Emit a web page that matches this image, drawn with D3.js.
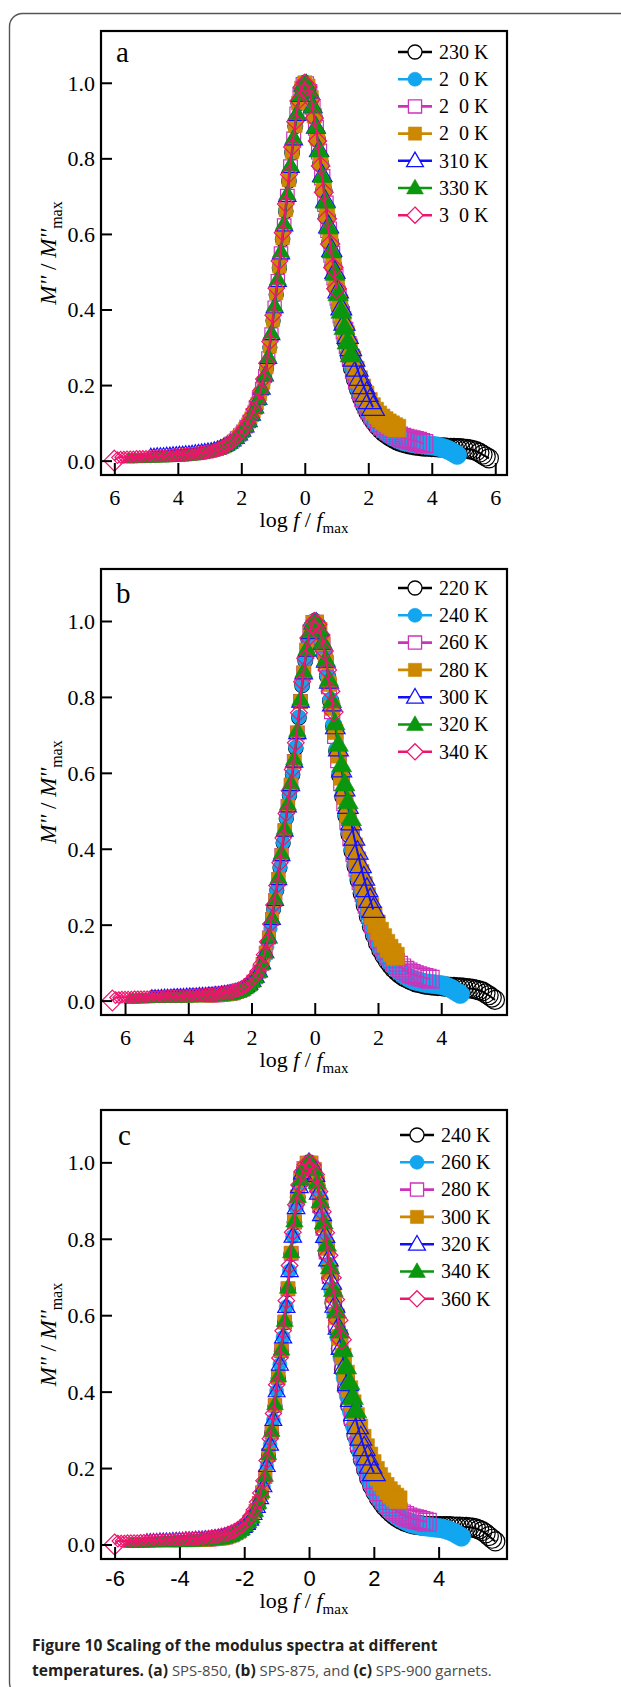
<!DOCTYPE html>
<html>
<head>
<meta charset="utf-8">
<script src="https://cdn.jsdelivr.net/npm/d3@7"></script>
<style>
  html, body { margin: 0; padding: 0; background: #fff; }
  svg { display: block; }
  text { white-space: pre; }
</style>
</head>
<body>
<script>
// ---------------------------------------------------------------------------
// Data
// ---------------------------------------------------------------------------

// Measurement grid, log10(f / Hz); every temperature shares it.
const logFreq = [
  -1.0, -0.9, -0.8, -0.7, -0.6, -0.5, -0.4, -0.3, -0.2, -0.1,
   0.0,  0.1,  0.2,  0.3,  0.4,  0.5,  0.6,  0.7,  0.8,  0.9,
   1.0,  1.1,  1.2,  1.3,  1.4,  1.5,  1.6,  1.7,  1.8,  1.9,
   2.0,  2.1,  2.2,  2.3,  2.4,  2.5,  2.6,  2.7,  2.8,  2.9,
   3.0,  3.1,  3.2,  3.3,  3.4,  3.5,  3.6,  3.7,  3.8,  3.9,
   4.0,  4.1,  4.2,  4.3,  4.4,  4.5,  4.6,  4.7,  4.8,  4.9,
   5.0,  5.1,  5.2,  5.3,  5.4,  5.5,  5.6,  5.7,  5.8,  5.9,
   6.0
];

// (a) SPS-850
const labelsA = ["230 K", "2\u20070 K", "2\u20070 K", "2\u20070 K", "310 K", "330 K", "3\u20070 K"];
const logFmaxA = [0.2, 1.2, 2.25, 3.1, 3.85, 4.55, 5.0];
const a1 = [0.245,0.300,0.370,0.440,0.510,0.585,0.660,0.740,0.815,0.885,
  0.945,0.985,1.000,0.990,0.958,0.910,0.850,0.785,0.715,0.645,
  0.578,0.515,0.458,0.405,0.358,0.316,0.279,0.245,0.215,0.189,
  0.166,0.146,0.129,0.115,0.103,0.092,0.083,0.075,0.069,0.063,
  0.058,0.054,0.050,0.047,0.045,0.043,0.041,0.040,0.039,0.038,
  0.037,0.037,0.036,0.036,0.035,0.035,0.035,0.034,0.034,0.034,
  0.033,0.033,0.032,0.031,0.030,0.028,0.025,0.021,0.016,0.011,0.006];
const a2 = [0.056,0.064,0.073,0.084,0.097,0.112,0.130,0.151,0.176,0.205,
  0.245,0.300,0.370,0.440,0.512,0.587,0.662,0.742,0.817,0.886,
  0.946,0.986,1.000,0.990,0.958,0.910,0.850,0.785,0.715,0.645,
  0.578,0.515,0.458,0.406,0.360,0.319,0.282,0.249,0.219,0.193,
  0.170,0.150,0.133,0.119,0.107,0.097,0.088,0.080,0.074,0.068,
  0.063,0.059,0.055,0.052,0.050,0.048,0.046,0.045,0.044,0.043,
  0.042,0.041,0.040,0.039,0.037,0.035,0.032,0.029,0.025,0.020,0.015];
const a3 = [0.020,0.022,0.023,0.025,0.027,0.029,0.032,0.036,0.040,0.046,
  0.052,0.060,0.068,0.078,0.090,0.104,0.121,0.140,0.163,0.190,
  0.224,0.271,0.334,0.405,0.475,0.548,0.622,0.700,0.778,0.851,
  0.917,0.967,0.995,0.997,0.976,0.936,0.881,0.818,0.750,0.680,
  0.611,0.546,0.486,0.433,0.386,0.344,0.306,0.272,0.240,0.212,
  0.188,0.167,0.149,0.134,0.121,0.110,0.100,0.092,0.085,0.079,
  0.074,0.069,0.065,0.062,0.059,0.057,0.055,0.053,0.051,0.048,0.045];
const a4 = [0.015,0.015,0.016,0.016,0.017,0.018,0.018,0.019,0.020,0.021,
  0.023,0.024,0.026,0.028,0.031,0.034,0.038,0.043,0.049,0.056,
  0.064,0.073,0.084,0.097,0.112,0.130,0.151,0.176,0.206,0.247,
  0.302,0.372,0.443,0.514,0.589,0.664,0.743,0.818,0.887,0.946,
  0.986,1.000,0.991,0.960,0.913,0.854,0.790,0.721,0.652,0.586,
  0.524,0.468,0.418,0.374,0.335,0.300,0.268,0.240,0.215,0.193,
  0.174,0.157,0.143,0.131,0.121,0.113,0.106,0.100,0.095,0.090,0.086];
const a5 = [0.016,0.016,0.017,0.017,0.017,0.018,0.018,0.019,0.019,0.020,
  0.020,0.021,0.021,0.022,0.023,0.024,0.025,0.026,0.027,0.028,
  0.030,0.032,0.035,0.038,0.042,0.047,0.053,0.060,0.069,0.079,
  0.091,0.105,0.122,0.141,0.164,0.191,0.226,0.273,0.336,0.407,
  0.477,0.550,0.624,0.702,0.779,0.852,0.917,0.967,0.995,0.997,
  0.977,0.938,0.884,0.823,0.757,0.689,0.622,0.559,0.501,0.450,
  0.405,0.365,0.330,0.298,0.270,0.244,0.220,0.198,0.178,0.159,0.141];
const a6 = [0.005,0.005,0.006,0.006,0.006,0.006,0.007,0.007,0.007,0.008,
  0.008,0.008,0.009,0.009,0.010,0.010,0.011,0.011,0.012,0.013,
  0.014,0.015,0.016,0.018,0.020,0.022,0.024,0.027,0.030,0.033,
  0.036,0.041,0.046,0.053,0.060,0.069,0.079,0.091,0.105,0.122,
  0.141,0.164,0.192,0.228,0.276,0.339,0.410,0.481,0.554,0.628,
  0.706,0.782,0.855,0.919,0.968,0.996,0.998,0.978,0.938,0.884,
  0.821,0.754,0.686,0.618,0.555,0.496,0.442,0.396,0.353,0.315,0.281];
const a7 = [0.000,0.008,0.009,0.009,0.010,0.010,0.010,0.011,0.011,0.011,
  0.011,0.012,0.012,0.012,0.013,0.013,0.013,0.014,0.014,0.015,
  0.015,0.016,0.016,0.017,0.018,0.018,0.019,0.020,0.021,0.023,
  0.024,0.026,0.028,0.031,0.035,0.039,0.044,0.050,0.057,0.066,
  0.076,0.087,0.101,0.117,0.136,0.158,0.184,0.216,0.258,0.315,
  0.385,0.456,0.528,0.603,0.679,0.757,0.830,0.897,0.952,0.988,
  1.000,0.989,0.956,0.907,0.846,0.780,0.710,0.640,0.573,0.511,0.455];

// (b) SPS-875
const labelsB = ["220 K", "240 K", "260 K", "280 K", "300 K", "320 K", "340 K"];
const logFmaxB = [0.3, 1.4, 2.35, 3.45, 4.15, 4.85, 5.4];
const b1 = [0.240,0.290,0.350,0.415,0.480,0.540,0.595,0.665,0.745,0.830,
  0.895,0.950,0.986,1.000,0.990,0.958,0.912,0.855,0.790,0.724,
  0.658,0.593,0.537,0.486,0.438,0.394,0.354,0.317,0.283,0.251,
  0.222,0.196,0.173,0.152,0.134,0.119,0.106,0.095,0.085,0.077,
  0.070,0.064,0.059,0.055,0.051,0.048,0.046,0.044,0.042,0.041,
  0.040,0.039,0.038,0.038,0.037,0.037,0.036,0.036,0.035,0.035,
  0.034,0.033,0.032,0.031,0.029,0.027,0.024,0.019,0.014,0.008,0.002];
const b2 = [0.022,0.026,0.031,0.037,0.045,0.055,0.068,0.085,0.110,0.142,
  0.190,0.240,0.291,0.351,0.416,0.481,0.542,0.597,0.667,0.747,
  0.831,0.896,0.951,0.987,1.000,0.990,0.959,0.913,0.857,0.792,
  0.727,0.661,0.597,0.541,0.491,0.444,0.400,0.361,0.325,0.291,
  0.259,0.230,0.203,0.180,0.159,0.141,0.126,0.113,0.102,0.092,
  0.083,0.076,0.069,0.064,0.059,0.055,0.052,0.050,0.048,0.046,
  0.045,0.044,0.043,0.042,0.041,0.039,0.036,0.032,0.027,0.022,0.017];
const b3 = [0.011,0.011,0.012,0.012,0.013,0.014,0.015,0.016,0.018,0.021,
  0.024,0.028,0.034,0.041,0.050,0.061,0.076,0.097,0.126,0.166,
  0.215,0.265,0.320,0.383,0.448,0.512,0.568,0.630,0.705,0.788,
  0.863,0.923,0.969,0.996,0.996,0.976,0.938,0.888,0.828,0.763,
  0.698,0.634,0.574,0.521,0.473,0.429,0.388,0.350,0.315,0.283,
  0.253,0.226,0.202,0.181,0.162,0.146,0.132,0.120,0.110,0.101,
  0.093,0.086,0.080,0.075,0.071,0.068,0.065,0.063,0.061,0.059,0.056];
const b4 = [0.009,0.009,0.009,0.010,0.010,0.010,0.010,0.011,0.011,0.011,
  0.011,0.011,0.011,0.012,0.012,0.013,0.014,0.015,0.016,0.018,
  0.021,0.024,0.028,0.034,0.041,0.050,0.061,0.076,0.097,0.126,
  0.166,0.215,0.265,0.320,0.383,0.448,0.512,0.568,0.630,0.705,
  0.788,0.863,0.923,0.969,0.996,0.997,0.977,0.941,0.892,0.834,
  0.771,0.708,0.646,0.588,0.537,0.490,0.447,0.407,0.370,0.336,
  0.304,0.275,0.248,0.224,0.202,0.183,0.166,0.151,0.138,0.127,0.117];
const b5 = [0.012,0.012,0.012,0.013,0.013,0.013,0.013,0.014,0.014,0.014,
  0.014,0.015,0.015,0.015,0.015,0.016,0.016,0.016,0.017,0.017,
  0.018,0.018,0.019,0.020,0.021,0.022,0.024,0.026,0.029,0.033,
  0.038,0.044,0.052,0.063,0.078,0.099,0.128,0.167,0.216,0.266,
  0.321,0.384,0.449,0.513,0.569,0.631,0.706,0.789,0.864,0.924,
  0.970,0.996,0.997,0.978,0.943,0.896,0.841,0.781,0.721,0.663,
  0.608,0.558,0.512,0.469,0.429,0.392,0.357,0.324,0.294,0.266,0.240];
const b6 = [0.004,0.004,0.004,0.005,0.005,0.005,0.005,0.006,0.006,0.006,
  0.006,0.007,0.007,0.007,0.007,0.008,0.008,0.008,0.008,0.009,
  0.009,0.009,0.010,0.010,0.010,0.011,0.011,0.012,0.012,0.013,
  0.014,0.015,0.016,0.018,0.021,0.024,0.028,0.034,0.041,0.050,
  0.061,0.076,0.097,0.127,0.168,0.218,0.269,0.325,0.389,0.454,
  0.518,0.574,0.637,0.712,0.794,0.868,0.927,0.972,0.997,0.997,
  0.979,0.945,0.899,0.846,0.789,0.731,0.675,0.621,0.571,0.524,0.480];
const b7 = [0.000,0.008,0.008,0.009,0.009,0.009,0.009,0.010,0.010,0.010,
  0.010,0.010,0.011,0.011,0.011,0.011,0.011,0.012,0.012,0.012,
  0.012,0.013,0.013,0.013,0.013,0.014,0.014,0.014,0.015,0.015,
  0.016,0.016,0.017,0.018,0.019,0.020,0.021,0.023,0.025,0.027,
  0.030,0.034,0.039,0.046,0.054,0.064,0.078,0.096,0.121,0.155,
  0.202,0.252,0.303,0.363,0.428,0.493,0.553,0.609,0.679,0.758,
  0.840,0.902,0.955,0.989,1.000,0.991,0.963,0.921,0.871,0.815,0.760];

// (c) SPS-900
const labelsC = ["240 K", "260 K", "280 K", "300 K", "320 K", "340 K", "360 K"];
const logFmaxC = [0.25, 1.3, 2.35, 3.25, 4.0, 4.55, 5.0];
const c1 = [0.232,0.292,0.362,0.435,0.505,0.580,0.667,0.760,0.843,0.908,
  0.954,0.983,0.997,0.997,0.979,0.940,0.885,0.825,0.762,0.697,
  0.632,0.570,0.512,0.458,0.408,0.363,0.322,0.285,0.252,0.223,
  0.197,0.174,0.154,0.137,0.122,0.110,0.099,0.090,0.082,0.075,
  0.069,0.064,0.060,0.057,0.054,0.052,0.051,0.050,0.049,0.049,
  0.048,0.048,0.048,0.048,0.048,0.048,0.048,0.047,0.047,0.047,
  0.046,0.046,0.045,0.044,0.042,0.039,0.035,0.029,0.022,0.015,0.008];
const c2 = [0.025,0.030,0.036,0.043,0.052,0.063,0.078,0.097,0.120,0.152,
  0.205,0.261,0.326,0.401,0.471,0.542,0.622,0.716,0.806,0.881,
  0.936,0.973,0.993,1.000,0.993,0.965,0.916,0.856,0.796,0.731,
  0.667,0.603,0.543,0.488,0.436,0.389,0.347,0.308,0.273,0.242,
  0.214,0.190,0.169,0.150,0.134,0.121,0.109,0.099,0.090,0.083,
  0.076,0.070,0.065,0.061,0.057,0.054,0.052,0.050,0.048,0.047,
  0.046,0.045,0.044,0.043,0.042,0.040,0.037,0.034,0.030,0.025,0.020];
const c3 = [0.009,0.010,0.010,0.011,0.012,0.013,0.014,0.015,0.017,0.020,
  0.023,0.028,0.033,0.040,0.048,0.058,0.071,0.088,0.109,0.136,
  0.177,0.234,0.294,0.364,0.437,0.507,0.582,0.669,0.762,0.844,
  0.909,0.955,0.984,0.997,0.997,0.980,0.942,0.888,0.829,0.767,
  0.703,0.639,0.578,0.521,0.469,0.420,0.376,0.336,0.300,0.268,
  0.239,0.213,0.190,0.170,0.153,0.138,0.126,0.115,0.106,0.098,
  0.091,0.085,0.080,0.076,0.072,0.069,0.067,0.065,0.063,0.061,0.058];
const c4 = [0.007,0.007,0.007,0.008,0.008,0.008,0.008,0.009,0.009,0.009,
  0.010,0.010,0.011,0.012,0.013,0.014,0.015,0.017,0.020,0.023,
  0.028,0.033,0.040,0.048,0.058,0.071,0.088,0.109,0.136,0.178,
  0.235,0.295,0.365,0.438,0.508,0.583,0.670,0.763,0.845,0.910,
  0.955,0.984,0.997,0.998,0.981,0.945,0.893,0.836,0.776,0.715,
  0.654,0.596,0.542,0.493,0.448,0.407,0.370,0.336,0.306,0.279,
  0.254,0.232,0.212,0.194,0.178,0.164,0.152,0.141,0.132,0.124,0.117];
const c5 = [0.012,0.012,0.012,0.012,0.013,0.013,0.013,0.013,0.014,0.014,
  0.014,0.014,0.015,0.015,0.015,0.016,0.016,0.016,0.017,0.017,
  0.018,0.019,0.020,0.021,0.023,0.025,0.028,0.031,0.035,0.040,
  0.046,0.054,0.065,0.080,0.099,0.122,0.153,0.206,0.262,0.327,
  0.402,0.472,0.543,0.623,0.717,0.807,0.882,0.937,0.973,0.993,
  1.000,0.993,0.967,0.921,0.865,0.808,0.747,0.686,0.626,0.569,
  0.516,0.467,0.422,0.381,0.344,0.310,0.280,0.253,0.229,0.207,0.188];
const c6 = [0.003,0.003,0.003,0.004,0.004,0.004,0.004,0.005,0.005,0.005,
  0.005,0.006,0.006,0.006,0.006,0.007,0.007,0.007,0.008,0.008,
  0.008,0.009,0.009,0.010,0.010,0.011,0.012,0.013,0.014,0.015,
  0.017,0.020,0.023,0.028,0.033,0.040,0.048,0.058,0.071,0.088,
  0.109,0.137,0.180,0.237,0.298,0.368,0.441,0.511,0.586,0.673,
  0.766,0.847,0.911,0.956,0.985,0.998,0.998,0.982,0.948,0.898,
  0.843,0.785,0.726,0.667,0.611,0.559,0.510,0.465,0.424,0.386,0.351];
const c7 = [0.000,0.009,0.009,0.009,0.010,0.010,0.010,0.010,0.011,0.011,
  0.011,0.011,0.012,0.012,0.012,0.012,0.013,0.013,0.013,0.014,
  0.014,0.014,0.015,0.015,0.016,0.016,0.017,0.017,0.018,0.019,
  0.020,0.021,0.022,0.024,0.026,0.029,0.032,0.036,0.041,0.047,
  0.054,0.063,0.075,0.091,0.111,0.135,0.167,0.220,0.277,0.343,
  0.418,0.488,0.559,0.638,0.730,0.817,0.889,0.941,0.976,0.994,
  1.000,0.993,0.968,0.924,0.871,0.816,0.757,0.698,0.641,0.587,0.536];

const yTicks = [0.0, 0.2, 0.4, 0.6, 0.8, 1.0];
const xTicksA = [-6, -4, -2, 0, 2, 4, 6];
const xTicksB = [-6, -4, -2, 0, 2, 4];
const xTicksC = [-6, -4, -2, 0, 2, 4];

// ---------------------------------------------------------------------------
// Styles and layout
// ---------------------------------------------------------------------------
const seriesStyle = [
  { color: "#000000", shape: "circle",   filled: false },
  { color: "#12a6f0", shape: "circle",   filled: true  },
  { color: "#cc33bb", shape: "square",   filled: false },
  { color: "#cc8800", shape: "square",   filled: true  },
  { color: "#1010ff", shape: "triangle", filled: false },
  { color: "#0a960f", shape: "triangle", filled: true  },
  { color: "#f0146e", shape: "diamond",  filled: false, firstSize: 18 }
];

const serif = "'Liberation Serif','Times New Roman',Times,serif";
const sans = "'Liberation Sans',Arial,Helvetica,sans-serif";
const W = 621, H = 1687;

const svg = d3.select("body").append("svg")
  .attr("width", W).attr("height", H)
  .attr("viewBox", `0 0 ${W} ${H}`);

svg.append("rect").attr("width", W).attr("height", H).attr("fill", "#fff");

// rounded outer box of the figure
svg.append("rect")
  .attr("x", 9.5).attr("y", 13.5)
  .attr("width", 660).attr("height", 1682)
  .attr("rx", 13).attr("ry", 13)
  .attr("fill", "none").attr("stroke", "#555").attr("stroke-width", 1.4);

function markerPath(shape, s) {
  const r = s / 2;
  if (shape === "circle") {
    return `M${r},0A${r},${r} 0 1,1 ${-r},0A${r},${r} 0 1,1 ${r},0Z`;
  }
  if (shape === "square") {
    const h = r * 0.94;
    return `M${-h},${-h}H${h}V${h}H${-h}Z`;
  }
  if (shape === "triangle") {
    const w = s * 0.6, t = s * 0.62, b = s * 0.42;
    return `M0,${-t}L${w},${b}L${-w},${b}Z`;
  }
  const d = s * 0.58;
  return `M0,${-d}L${d},0L0,${d}L${-d},0Z`;
}

// marker size grows from the low-frequency wing to the high-frequency wing
const markerSize = d3.scaleLinear()
  .domain([-5, -2, 0, 2])
  .range([10, 13, 15, 19])
  .clamp(true);

function drawPanel(p) {
  const x = d3.scaleLinear().domain(p.xDomain).range([p.left, p.right]);
  const y = d3.scaleLinear().domain([-0.038, 1.137]).range([p.bottom, p.top]);
  const g = svg.append("g");

  // data: each temperature is shifted by its own peak frequency
  p.values.forEach((vals, k) => {
    const st = seriesStyle[k];
    const n = Math.min(vals.length, logFreq.length);
    const pts = d3.range(n).map(i => ({ i, x: logFreq[i] - p.logFmax[k], y: vals[i] }));
    const sg = g.append("g");
    sg.append("path").datum(pts)
      .attr("d", d3.line().x(d => x(d.x)).y(d => y(d.y)))
      .attr("fill", "none").attr("stroke", st.color).attr("stroke-width", 2);
    sg.selectAll("path.m").data(pts).join("path")
      .attr("class", "m")
      .attr("transform", d => `translate(${x(d.x)},${y(d.y)})`)
      .attr("d", d => markerPath(st.shape,
        d.i === 0 && st.firstSize ? st.firstSize : markerSize(d.x)))
      .attr("fill", st.filled ? st.color : "none")
      .attr("stroke", st.color)
      .attr("stroke-width", st.filled ? 0.6 : 1.2);
  });

  // axes: ticks point inward
  const ax = g.append("g").attr("transform", `translate(0,${p.bottom})`)
    .call(d3.axisBottom(x).tickValues(p.xTicks).tickSize(-12)
      .tickFormat(p.xFormat));
  ax.select(".domain").remove();
  ax.selectAll(".tick line").attr("stroke", "#000").attr("stroke-width", 2);
  ax.selectAll(".tick text")
    .attr("y", p.xLabelDy).attr("dy", null)
    .attr("font-family", p.xFont).attr("font-size", p.xFontSize).attr("fill", "#000");

  const ay = g.append("g").attr("transform", `translate(${p.left},0)`)
    .call(d3.axisLeft(y).tickValues(yTicks).tickSize(-11).tickFormat(d3.format(".1f")));
  ay.select(".domain").remove();
  ay.selectAll(".tick line").attr("stroke", "#000").attr("stroke-width", 2);
  ay.selectAll(".tick text")
    .attr("x", -6).attr("dy", "0.34em")
    .attr("font-family", serif).attr("font-size", 22).attr("fill", "#000");

  // frame
  g.append("rect")
    .attr("x", p.left).attr("y", p.top)
    .attr("width", p.right - p.left).attr("height", p.bottom - p.top)
    .attr("fill", "none").attr("stroke", "#000").attr("stroke-width", 2.2);

  // panel letter
  g.append("text").attr("x", p.letterX).attr("y", p.letterY)
    .attr("font-family", serif).attr("font-size", 29).text(p.letter);

  // x title: log f / f_max
  const xt = g.append("text")
    .attr("x", (p.left + p.right) / 2).attr("y", p.bottom + p.xTitleDy)
    .attr("text-anchor", "middle")
    .attr("font-family", serif).attr("font-size", 22);
  xt.append("tspan").text("log ");
  xt.append("tspan").attr("font-style", "italic").text("f");
  xt.append("tspan").text(" / ");
  xt.append("tspan").attr("font-style", "italic").text("f");
  xt.append("tspan").attr("font-size", 15).attr("dy", 6).text("max");

  // y title: M'' / M''_max
  const cy = (p.top + p.bottom) / 2;
  const yt = g.append("text")
    .attr("transform", `translate(56,${cy}) rotate(-90)`)
    .attr("text-anchor", "middle")
    .attr("font-family", serif).attr("font-size", 23);
  yt.append("tspan").attr("font-style", "italic").text("M''");
  yt.append("tspan").text(" / ");
  yt.append("tspan").attr("font-style", "italic").text("M''");
  yt.append("tspan").attr("font-size", 16).attr("dy", 6).text("max");

  // legend
  p.labels.forEach((lab, k) => {
    const st = seriesStyle[k];
    const ly = p.legendY + k * p.legendStep;
    const lg = g.append("g");
    lg.append("line")
      .attr("x1", p.legendX).attr("x2", p.legendX + 34)
      .attr("y1", ly).attr("y2", ly)
      .attr("stroke", st.color).attr("stroke-width", 2.6);
    lg.append("path")
      .attr("transform", `translate(${p.legendX + 17},${ly})`)
      .attr("d", markerPath(st.shape, 14))
      .attr("fill", st.filled ? st.color : "#fff")
      .attr("stroke", st.color).attr("stroke-width", st.filled ? 0.6 : 1.3);
    lg.append("text")
      .attr("x", p.legendX + 41).attr("y", ly).attr("dy", "0.34em")
      .attr("font-family", serif).attr("font-size", 20).text(lab);
  });
}

const absFormat = d => String(Math.abs(d));
const signedFormat = d => String(d);

drawPanel({
  letter: "a", letterX: 116, letterY: 62,
  left: 101, right: 507, top: 31, bottom: 475, xDomain: [-6.42, 6.37],
  xTicks: xTicksA, xFormat: absFormat, xFont: serif, xFontSize: 22, xLabelDy: 30,
  xTitleDy: 52,
  legendX: 398, legendY: 52, legendStep: 27.2,
  labels: labelsA, logFmax: logFmaxA, values: [a1, a2, a3, a4, a5, a6, a7]
});

drawPanel({
  letter: "b", letterX: 116, letterY: 603,
  left: 101, right: 507, top: 569, bottom: 1015, xDomain: [-6.76, 6.08],
  xTicks: xTicksB, xFormat: absFormat, xFont: serif, xFontSize: 22, xLabelDy: 30,
  xTitleDy: 52,
  legendX: 398, legendY: 588, legendStep: 27.3,
  labels: labelsB, logFmax: logFmaxB, values: [b1, b2, b3, b4, b5, b6, b7]
});

drawPanel({
  letter: "c", letterX: 118, letterY: 1145,
  left: 101, right: 507, top: 1110, bottom: 1559, xDomain: [-6.42, 6.11],
  xTicks: xTicksC, xFormat: signedFormat, xFont: sans, xFontSize: 22, xLabelDy: 27,
  xTitleDy: 49,
  legendX: 400, legendY: 1135, legendStep: 27.3,
  labels: labelsC, logFmax: logFmaxC, values: [c1, c2, c3, c4, c5, c6, c7]
});

// caption, fitted to the column width
const capFont = "'Open Sans','Noto Sans',sans-serif";
const cap1 = svg.append("text")
  .attr("x", 32).attr("y", 1651)
  .attr("font-family", capFont).attr("font-size", 16).attr("font-weight", 700)
  .attr("fill", "#231f20")
  .text("Figure 10 Scaling of the modulus spectra at different");
const cap1Len = cap1.node().getComputedTextLength();
const boldSize = cap1Len > 0 ? 16 * 406 / cap1Len : 16;
cap1.attr("font-size", boldSize);

const cap2 = svg.append("text")
  .attr("x", 32).attr("y", 1676)
  .attr("font-family", capFont).attr("fill", "#231f20");
const cap2Parts = [
  ["temperatures. (a)", true], [" SPS-850, ", false], ["(b)", true],
  [" SPS-875, and ", false], ["(c)", true], [" SPS-900 garnets.", false]
];
const cap2Spans = cap2Parts.map(([t, bold]) =>
  cap2.append("tspan")
    .attr("font-weight", bold ? 700 : 400)
    .attr("font-size", bold ? boldSize : 15.5)
    .attr("fill", bold ? "#231f20" : "#4a4a4a")
    .text(t));
let boldLen = 0, regLen = 0;
cap2Spans.forEach((s, i) => {
  const l = s.node().getComputedTextLength();
  if (cap2Parts[i][1]) boldLen += l; else regLen += l;
});
if (regLen > 0) {
  const regSize = Math.min(16, 15.5 * (460 - boldLen) / regLen);
  cap2Spans.forEach((s, i) => { if (!cap2Parts[i][1]) s.attr("font-size", regSize); });
}
</script>
</body>
</html>
